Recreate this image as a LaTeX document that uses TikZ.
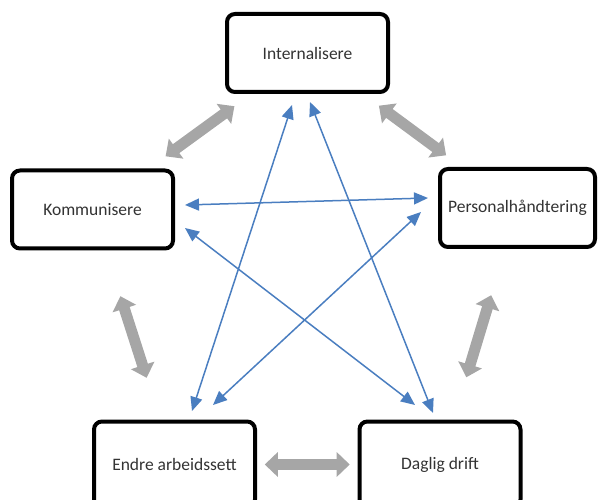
\documentclass[tikz,border=0pt]{standalone}
\usepackage{fontspec}
\setmainfont{Carlito}
\usepackage{tikz}
\usetikzlibrary{arrows.meta, calc}

\definecolor{linkblue}{RGB}{74,126,192}
\definecolor{cyclegray}{RGB}{166,166,166}

\begin{document}
\begin{tikzpicture}[x=1pt, y=1pt,
    every node/.style={draw, line width=4pt, rounded corners=8pt,
        minimum width=161pt, minimum height=78pt, inner sep=2pt,
        font=\fontsize{17.5}{20}\selectfont, text=black!80},
    gray_arrow/.style={draw=cyclegray, line width=11pt,
        {Triangle[length=13pt, width=24pt]}-{Triangle[length=13pt, width=24pt]}},
    blue_arrow/.style={draw=linkblue, line width=1.5pt,
        {Triangle[length=14pt, width=12pt]}-{Triangle[length=14pt, width=12pt]}}]

    \useasboundingbox (0,0) rectangle (598,499);

	%Nodes
    \node (intern) at (307.5,446) {Internalisere};
    \node (komm) at (92.5,289.5) {Kommunisere};
    \node (pers) [minimum width=155pt] at (517.5,291) {Personalhåndtering};
    \node (endre) [minimum height=86pt] at (174.5,34.5) {Endre arbeidssett};
    \node (daglig) [minimum height=86pt] at (440,34.5) {Daglig drift};

    % Cycle
    \draw[gray_arrow] ($(intern)!0.34!(komm)$) -- ($(komm)!0.34!(intern)$);
    \draw[gray_arrow] ($(intern)!0.34!(pers)$) -- ($(pers)!0.34!(intern)$);
    \draw[gray_arrow] ($(komm)!0.34!(endre)$) -- ($(endre)!0.34!(komm)$);
    \draw[gray_arrow] ($(pers)!0.34!(daglig)$) -- ($(daglig)!0.34!(pers)$);
    \draw[gray_arrow] ($(endre)!0.34!(daglig)$) -- ($(daglig)!0.34!(endre)$);

    % Edges
    \draw[blue_arrow] ($(intern.south)+(-15.5,-11)$) -- ($(endre.north)+(17.5,8.5)$);
    \draw[blue_arrow] ($(intern.south)+(2.5,-8)$) -- ($(daglig.north)+(-7,6.5)$);
    \draw[blue_arrow] ($(komm.east)+(10,4.5)$) -- ($(pers.west)+(-10,10)$);
    \draw[blue_arrow] ($(komm.east)+(10,-18.5)$) -- ($(daglig.north)+(-25,14.5)$);
    \draw[blue_arrow] ($(pers.west)+(-17,-4)$) -- ($(endre.north)+(38.5,14.5)$);

\end{tikzpicture}
\end{document}
